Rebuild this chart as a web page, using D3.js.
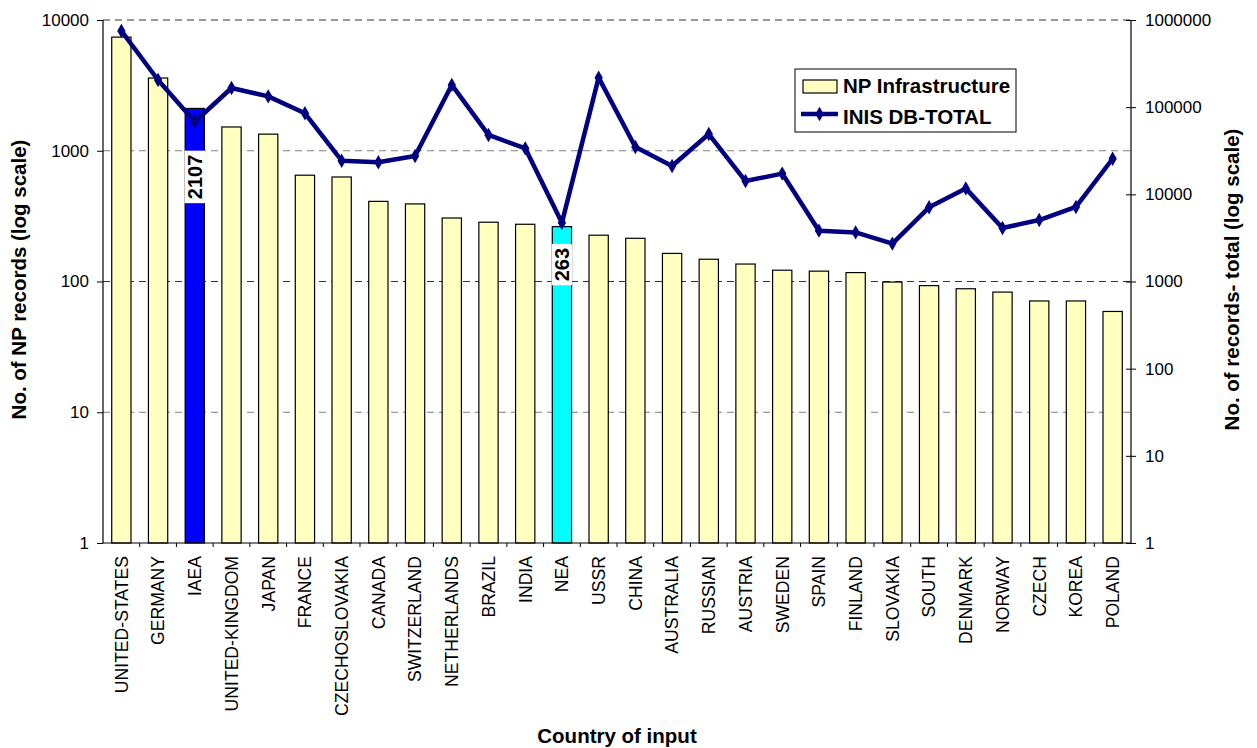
<!DOCTYPE html>
<html>
<head>
<meta charset="utf-8">
<script src="https://cdn.jsdelivr.net/npm/d3@7/dist/d3.min.js"></script>
<style>
  html, body { margin: 0; padding: 0; background: #fff; }
  svg { display: block; font-family: "Liberation Sans", Arial, sans-serif; }
</style>
</head>
<body>
<svg id="chart" width="1257" height="748"></svg>
<script>
// Country of input, in the order the bars are drawn
const categories = [
  "UNITED-STATES", "GERMANY", "IAEA", "UNITED-KINGDOM", "JAPAN", "FRANCE",
  "CZECHOSLOVAKIA", "CANADA", "SWITZERLAND", "NETHERLANDS", "BRAZIL", "INDIA",
  "NEA", "USSR", "CHINA", "AUSTRALIA", "RUSSIAN", "AUSTRIA", "SWEDEN", "SPAIN",
  "FINLAND", "SLOVAKIA", "SOUTH", "DENMARK", "NORWAY", "CZECH", "KOREA", "POLAND"
];

// NP Infrastructure records per country (left axis, log scale)
const npRecords = [
  7400, 3600, 2107, 1520, 1340, 650, 630, 410, 392, 306, 284, 274,
  263, 226, 214, 164, 148, 136, 122, 120, 117, 99, 93, 88, 83, 71, 71, 59
];

// INIS DB total records per country (right axis, log scale)
const inisTotal = [
  750000, 205000, 68000, 166000, 133000, 85000, 24300, 23300, 27500, 180000,
  48000, 33700, 4730, 218000, 34900, 21100, 49200, 14200, 17300, 3830,
  3660, 2720, 7100, 11700, 4110, 5070, 7160, 25600
];

// Bars that carry a value label
const labelledBars = ["IAEA", "NEA"];

// Axis ticks
const leftTicks = [1, 10, 100, 1000, 10000];
const rightTicks = [1, 10, 100, 1000, 10000, 100000, 1000000];

const seriesNames = ["NP Infrastructure", "INIS DB-TOTAL"];
const axisTitles = {
  left: "No. of NP records (log scale)",
  right: "No. of records- total (log scale)",
  bottom: "Country of input"
};

// ---- layout ----
const FONT = "'Liberation Sans', Arial, sans-serif";
const plot = { left: 103, right: 1131, top: 20, bottom: 543 };
const svg = d3.select("#chart");

const x = d3.scaleBand()
  .domain(categories)
  .range([plot.left, plot.right])
  .paddingInner(0.475)
  .paddingOuter(0.2375);

const yLeft = d3.scaleLog().domain([1, 10000]).range([plot.bottom, plot.top]);
const yRight = d3.scaleLog().domain([1, 1000000]).range([plot.bottom, plot.top]);

const barFill = d => d === "IAEA" ? "#0000ff" : d === "NEA" ? "#00ffff" : "#ffffc0";
const lineColor = "#000080";

// ---- gridlines (left axis decades, dashed) ----
const gridDark = new Set([100, 10000]);
svg.append("g")
  .selectAll("line")
  .data(leftTicks.filter(t => t > 1))
  .join("line")
  .attr("x1", plot.left).attr("x2", plot.right)
  .attr("y1", d => yLeft(d)).attr("y2", d => yLeft(d))
  .attr("stroke", d => gridDark.has(d) ? "#333" : "#808080")
  .attr("stroke-width", 1)
  .attr("stroke-dasharray", "7,5");

// ---- bars ----
svg.append("g")
  .selectAll("rect")
  .data(categories.map((c, i) => ({ c, v: npRecords[i] })))
  .join("rect")
  .attr("x", d => x(d.c))
  .attr("width", x.bandwidth())
  .attr("y", d => yLeft(d.v))
  .attr("height", d => plot.bottom - yLeft(d.v))
  .attr("fill", d => barFill(d.c))
  .attr("stroke", "#000")
  .attr("stroke-width", 1.2);

// ---- value labels on highlighted bars ----
const labelDrop = { IAEA: 68.5, NEA: 38 };
const lblG = svg.append("g");
labelledBars.forEach(c => {
  const i = categories.indexOf(c);
  const v = npRecords[i];
  const cx = x(c) + x.bandwidth() / 2;
  const cy = yLeft(v) + labelDrop[c];
  const g = lblG.append("g").attr("transform", `translate(${cx},${cy}) rotate(-90)`);
  const t = g.append("text")
    .attr("text-anchor", "middle")
    .attr("dy", "0.36em")
    .attr("font-size", 20)
    .attr("font-weight", "bold")
    .attr("font-family", FONT)
    .attr("fill", "#000")
    .text(v);
  const len = t.node().getComputedTextLength();
  g.insert("rect", "text")
    .attr("x", -len / 2 - 4)
    .attr("width", len + 8)
    .attr("y", -x.bandwidth() / 2 - 0.6)
    .attr("height", x.bandwidth() + 1.2)
    .attr("fill", "#fff");
});

// ---- INIS total line ----
const linePts = categories.map((c, i) => [x(c) + x.bandwidth() / 2, yRight(inisTotal[i])]);
svg.append("path")
  .attr("d", d3.line()(linePts))
  .attr("fill", "none")
  .attr("stroke", lineColor)
  .attr("stroke-width", 4.5)
  .attr("stroke-linejoin", "round");

const diamond = d3.symbol().type(d3.symbolDiamond).size(60);
svg.append("g")
  .selectAll("path")
  .data(linePts)
  .join("path")
  .attr("transform", d => `translate(${d[0]},${d[1]})`)
  .attr("d", diamond)
  .attr("fill", lineColor);

// ---- axes ----
const fmt = d => String(d);

const axL = svg.append("g")
  .attr("transform", `translate(${plot.left},0)`)
  .call(d3.axisLeft(yLeft).tickValues(leftTicks).tickFormat(fmt).tickSize(6).tickPadding(8));
const axR = svg.append("g")
  .attr("transform", `translate(${plot.right},0)`)
  .call(d3.axisRight(yRight).tickValues(rightTicks).tickFormat(fmt).tickSize(5).tickPadding(9));
axR.selectAll(".tick line").attr("x1", -5);

const axB = svg.append("g")
  .attr("transform", `translate(0,${plot.bottom})`)
  .call(d3.axisBottom(x).tickSize(0).tickPadding(0));

[axL, axR, axB].forEach(a => {
  a.attr("font-family", FONT);
  a.select(".domain").attr("stroke", "#000").attr("stroke-width", 1.2);
  a.selectAll(".tick line").attr("stroke", "#000");
  a.selectAll("text").attr("font-size", 17).attr("fill", "#000").attr("font-family", FONT);
});
axL.select(".domain").attr("d", `M0,${plot.top}V${plot.bottom}`);
axR.select(".domain").attr("d", `M0,${plot.top}V${plot.bottom}`);
axB.select(".domain").attr("d", `M${plot.left},0H${plot.right}`);

// category labels read bottom-to-top
axB.selectAll(".tick text")
  .attr("font-size", 17.6)
  .attr("transform", "translate(0,13) rotate(-90)")
  .attr("text-anchor", "end")
  .attr("x", 0)
  .attr("y", 0)
  .attr("dy", "0.36em");

// short tick marks on the category boundaries
const step = x.step();
svg.append("g")
  .selectAll("line")
  .data(d3.range(1, categories.length))
  .join("line")
  .attr("x1", i => plot.left + i * step)
  .attr("x2", i => plot.left + i * step)
  .attr("y1", plot.bottom)
  .attr("y2", plot.bottom + 4)
  .attr("stroke", "#000");

// ---- axis titles ----
const titleStyle = sel => sel
  .attr("font-size", 20.5)
  .attr("font-weight", "bold")
  .attr("font-family", FONT)
  .attr("fill", "#000")
  .attr("text-anchor", "middle");

svg.append("text")
  .attr("transform", `translate(26,${(plot.top + plot.bottom) / 2 - 2}) rotate(-90)`)
  .call(titleStyle)
  .text(axisTitles.left);

svg.append("text")
  .attr("transform", `translate(1239,${(plot.top + plot.bottom) / 2 - 2}) rotate(-90)`)
  .call(titleStyle)
  .text(axisTitles.right);

svg.append("text")
  .attr("x", (plot.left + plot.right) / 2)
  .attr("y", 743)
  .call(titleStyle)
  .text(axisTitles.bottom);

// ---- legend ----
const lg = svg.append("g").attr("transform", "translate(795,69)");
lg.append("rect")
  .attr("width", 221).attr("height", 63)
  .attr("fill", "#fff").attr("stroke", "#000").attr("stroke-width", 1);
lg.append("rect")
  .attr("x", 8).attr("y", 11).attr("width", 34).attr("height", 13)
  .attr("fill", "#ffffc0").attr("stroke", "#000").attr("stroke-width", 1.2);
lg.append("line")
  .attr("x1", 6).attr("x2", 43).attr("y1", 45).attr("y2", 45)
  .attr("stroke", lineColor).attr("stroke-width", 4.5);
lg.append("path")
  .attr("transform", "translate(24.5,45)")
  .attr("d", diamond)
  .attr("fill", lineColor);
lg.selectAll("text.lg")
  .data(seriesNames)
  .join("text")
  .attr("class", "lg")
  .attr("x", 48)
  .attr("y", (d, i) => 24 + i * 30.5)
  .attr("font-size", 20.5)
  .attr("font-weight", "bold")
  .attr("font-family", FONT)
  .attr("fill", "#000")
  .text(d => d);
</script>
</body>
</html>
